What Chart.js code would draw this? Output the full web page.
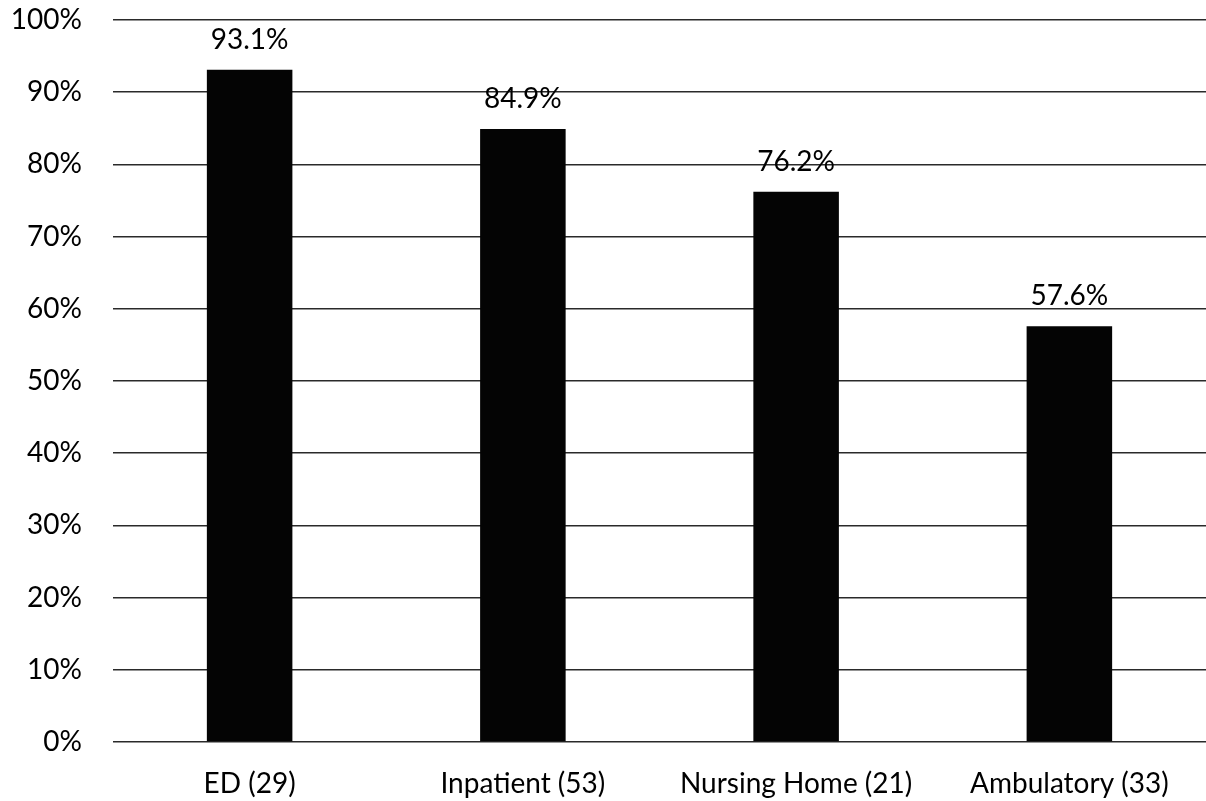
<!DOCTYPE html>
<html>
<head>
<meta charset="utf-8">
<script src="https://cdn.jsdelivr.net/npm/chart.js@4/dist/chart.umd.min.js"></script>
<style>
  html, body { margin: 0; padding: 0; background: #ffffff; }
  #wrap { width: 1206px; height: 801px; position: relative; }
</style>
</head>
<body>
<div id="wrap"><canvas id="c"></canvas></div>
<script>
// Share of sites per care setting (n in parentheses)
const categories = ['ED (29)', 'Inpatient (53)', 'Nursing Home (21)', 'Ambulatory (33)'];
const percentages = [93.1, 84.9, 76.2, 57.6];
const yTicks = [0, 10, 20, 30, 40, 50, 60, 70, 80, 90, 100];

const FONT = 'Lato, "Open Sans", sans-serif';
const INK = '#000000';

// Writes each bar's value above it
const valueLabels = {
  id: 'valueLabels',
  afterDatasetsDraw(chart) {
    const ctx = chart.ctx;
    const meta = chart.getDatasetMeta(0);
    ctx.save();
    ctx.font = '28px ' + FONT;
    ctx.fillStyle = INK;
    ctx.textAlign = 'center';
    ctx.textBaseline = 'alphabetic';
    meta.data.forEach((bar, i) => {
      ctx.fillText(percentages[i].toFixed(1) + '%', bar.x, bar.y - 21);
    });
    ctx.restore();
  }
};

new Chart(document.getElementById('c'), {
  type: 'bar',
  data: {
    labels: categories,
    datasets: [{
      data: percentages,
      backgroundColor: '#040404',
      borderWidth: 0,
      categoryPercentage: 1,
      barPercentage: 0.313
    }]
  },
  options: {
    responsive: true,
    maintainAspectRatio: false,
    animation: false,
    events: [],
    layout: { padding: { top: 20, right: -2, bottom: 0, left: 0 } },
    plugins: {
      legend: { display: false },
      tooltip: { enabled: false }
    },
    scales: {
      x: {
        grid: { display: false, drawTicks: false },
        border: { display: false },
        ticks: {
          font: { family: FONT, size: 28 },
          color: INK,
          padding: 25,
          maxRotation: 0,
          autoSkip: false
        },
        afterFit(scale) { scale.height = 59; }
      },
      y: {
        min: 0,
        max: 100,
        afterBuildTicks(scale) { scale.ticks = yTicks.map(v => ({ value: v })); },
        grid: { color: '#2a2a2a', lineWidth: 1.5, drawTicks: false },
        border: { display: false },
        ticks: {
          font: { family: FONT, size: 28 },
          color: INK,
          padding: 31,
          callback: v => v + '%'
        },
        afterFit(scale) {
          scale.width = 113;
          // the label gap is horizontal only; don't reserve it above/below the plot
          scale.paddingTop = 0;
          scale.paddingBottom = 0;
        }
      }
    }
  },
  plugins: [valueLabels]
});
</script>
</body>
</html>
